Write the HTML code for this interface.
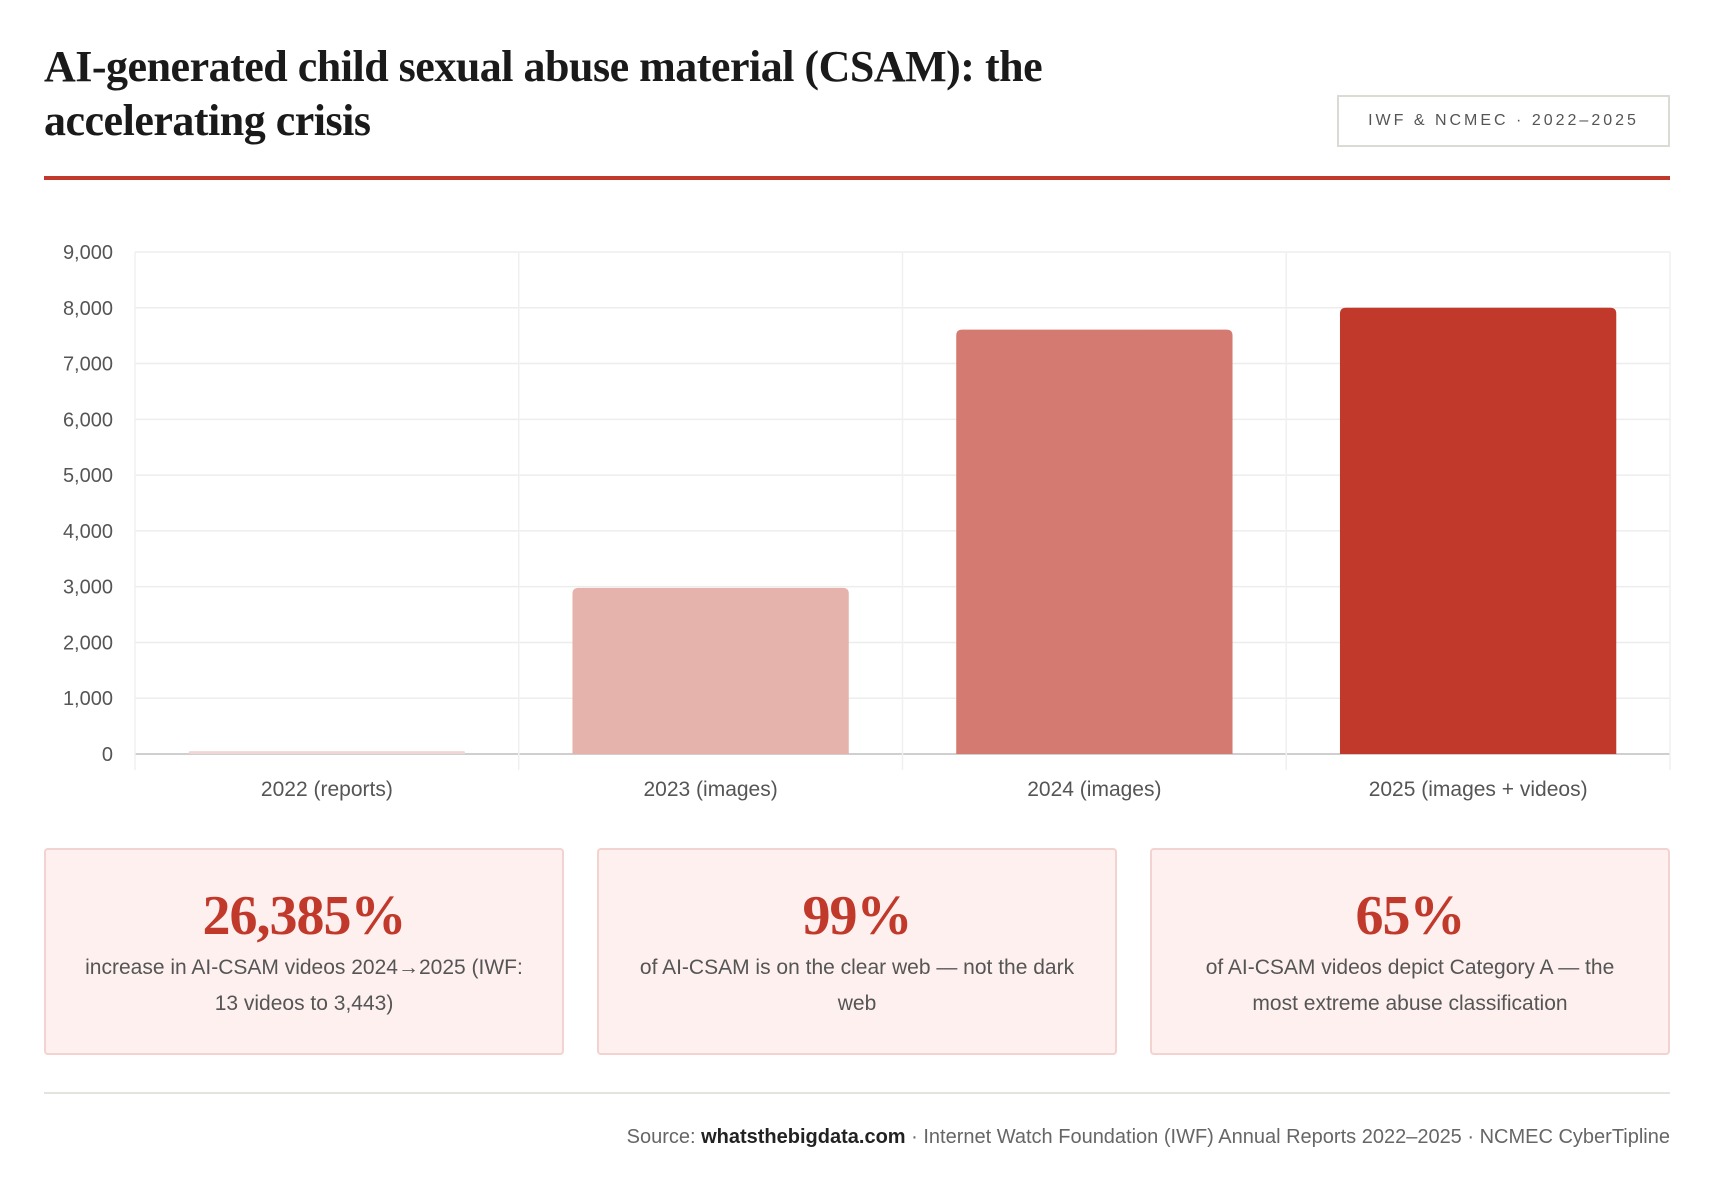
<!DOCTYPE html>
<html><head><meta charset="utf-8"><style>
body{margin:0;width:1718px;height:1198px;background:#fff;position:relative;font-family:"Liberation Sans",sans-serif;overflow:hidden}
.title{position:absolute;left:44px;top:40px;width:1100px;font-family:"Liberation Serif",serif;font-weight:bold;font-size:44px;line-height:54px;color:#1a1a1a;letter-spacing:-0.5px}
.badge{position:absolute;left:1337px;top:95px;width:333px;height:52px;border:2px solid #dcdad5;box-sizing:border-box;display:flex;align-items:center;justify-content:center;font-size:16px;letter-spacing:3px;color:#555}
.rule{position:absolute;left:44px;top:176px;width:1626px;height:4px;background:#c0392b}
.card{position:absolute;top:848px;width:520px;height:207px;background:#fdf0ef;border:2px solid #f2d3d0;box-sizing:border-box;border-radius:4px;text-align:center}
.big{font-family:"Liberation Serif",serif;font-weight:bold;font-size:56px;color:#c0392b;margin-top:34px;line-height:64px;letter-spacing:-1px}
.desc{font-size:21px;color:#555;line-height:36px;margin:2px 0 0;white-space:nowrap}
.div{position:absolute;left:44px;top:1092px;width:1626px;height:2px;background:#e5e3dd}
.src{position:absolute;right:48px;top:1126px;font-size:20px;color:#666}
.src b{color:#222}
</style></head><body>
<div class="title">AI-generated child sexual abuse material (CSAM): the accelerating crisis</div>
<div class="badge">IWF &amp; NCMEC · 2022–2025</div>
<div class="rule"></div>
<svg id="chart" width="1718" height="830" style="position:absolute;left:0;top:0"></svg>
<div class="card" style="left:44px"><div class="big">26,385%</div><div class="desc">increase in AI-CSAM videos 2024→2025 (IWF:<br>13 videos to 3,443)</div></div>
<div class="card" style="left:597px"><div class="big">99%</div><div class="desc">of AI-CSAM is on the clear web — not the dark<br>web</div></div>
<div class="card" style="left:1150px"><div class="big">65%</div><div class="desc">of AI-CSAM videos depict Category A — the<br>most extreme abuse classification</div></div>
<div class="div"></div>
<div class="src">Source: <b>whatsthebigdata.com</b> · Internet Watch Foundation (IWF) Annual Reports 2022–2025 · NCMEC CyberTipline</div>
<script>
const categories=["2022 (reports)","2023 (images)","2024 (images)","2025 (images + videos)"];
const values=[51,2978,7608,8000];
const colors=["#f0d7d5","#e6b2ac","#d57a71","#c0392b"];
const yTicks=[0,1000,2000,3000,4000,5000,6000,7000,8000,9000];
const ns="http://www.w3.org/2000/svg";
const svg=document.getElementById('chart');
const L=135,R=1670,T=252,B=754,yMax=9000;
const y=v=>B-(v/yMax)*(B-T);
const bw=(R-L)/categories.length;
const x=i=>L+i*bw;
function mk(t,a){const e=document.createElementNS(ns,t);for(const k in a)e.setAttribute(k,a[k]);svg.appendChild(e);return e;}
yTicks.forEach(t=>{
 const g=mk('line',{x1:L,x2:R,y1:y(t),y2:y(t),stroke:t===0?'#cfcfcf':'#ededed','stroke-width':t===0?2:1.5});
 
 
 const tx=mk('text',{x:113,y:y(t)+7,'text-anchor':'end','font-size':20,fill:'#555','font-family':'Liberation Sans, sans-serif'});
 tx.textContent=t.toLocaleString('en-US');
 
 
});
for(let i=0;i<=categories.length;i++){
 const v=mk('line',{x1:x(i),x2:x(i),y1:T,y2:B+16,stroke:'#f0f0f0','stroke-width':1.5});
 
 
}
categories.forEach((c,i)=>{
 const pad=bw*0.14,w=bw-2*pad,top=y(values[i]),h=B-top;
 const r=Math.min(6,h/2);
 const d=`M${x(i)+pad},${B}V${top+r}Q${x(i)+pad},${top} ${x(i)+pad+r},${top}H${x(i)+pad+w-r}Q${x(i)+pad+w},${top} ${x(i)+pad+w},${top+r}V${B}Z`;
 const b=mk('path',{d:d,fill:colors[i]});
 
 
 const l=mk('text',{x:x(i)+bw/2,y:796,'text-anchor':'middle','font-size':21,fill:'#555','font-family':'Liberation Sans, sans-serif'});
 l.textContent=c;
 
 
});
</script>
</body></html>
